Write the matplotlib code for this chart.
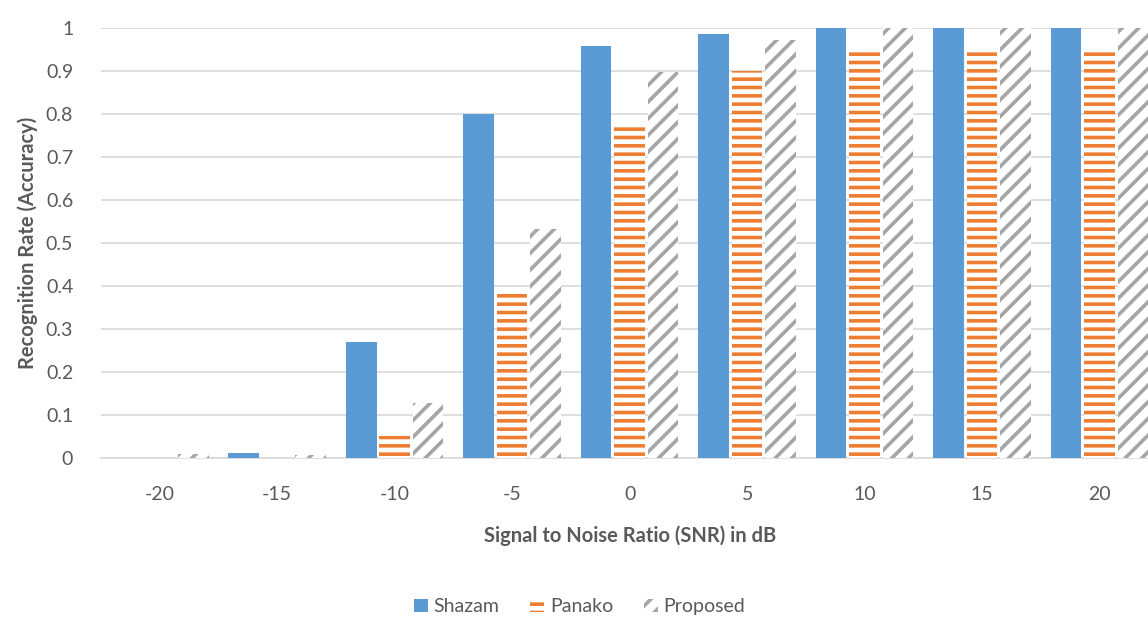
import numpy as np
import matplotlib.pyplot as plt

plt.rcParams['font.family'] = ['Lato', 'DejaVu Sans']
plt.rcParams['hatch.linewidth'] = 2.6

snr = ["-20", "-15", "-10", "-5", "0", "5", "10", "15", "20"]
shazam = [0.0, 0.012, 0.27, 0.80, 0.958, 0.986, 1.0, 1.0, 1.0]
panako = [0.0, 0.0, 0.051, 0.386, 0.774, 0.90, 0.943, 0.953, 0.953]
proposed = [0.01, 0.007, 0.128, 0.533, 0.898, 0.972, 1.0, 1.0, 1.0]

blue = "#5B9BD5"
orange = "#ED7D31"
gray = "#A5A5A5"
txt = "#595959"

fig = plt.figure(figsize=(11.48, 6.19), dpi=100)
ax = fig.add_axes([0.088, 0.26, 0.921, 0.695])

x = np.arange(len(snr))
w = 0.26
step = 0.285

ax.bar(x - step, shazam, w, color=blue, label="Shazam", zorder=3)
ax.bar(x, panako, w, color="white", edgecolor=orange, hatch="--",
       linewidth=0, label="Panako", zorder=3)
ax.bar(x + step, proposed, w, color="white", edgecolor=gray, hatch="//",
       linewidth=0, label="Proposed", zorder=3)

ax.set_xlim(-0.5, 8.5)
ax.set_ylim(0, 1)
ax.set_yticks(np.arange(0, 1.01, 0.1))
ax.set_yticklabels(["0", "0.1", "0.2", "0.3", "0.4", "0.5", "0.6", "0.7", "0.8", "0.9", "1"])
ax.set_xticks(x)
ax.set_xticklabels(snr)
ax.tick_params(length=0, labelsize=14, labelcolor=txt)
ax.tick_params(axis="x", pad=20)
ax.tick_params(axis="y", pad=20)
ax.grid(axis="y", color="#D9D9D9", linewidth=1.2, zorder=0)
for s in ["top", "right", "left"]:
    ax.spines[s].set_visible(False)
ax.spines["bottom"].set_color("#D9D9D9")
ax.spines["bottom"].set_linewidth(1.2)

ax.set_ylabel("Recognition Rate (Accuracy)", fontsize=14.5, fontweight="bold", color=txt, labelpad=6)
ax.set_xlabel("Signal to Noise Ratio (SNR) in dB", fontsize=14.5, fontweight="bold", color=txt, labelpad=16)

fig.legend(loc="center", bbox_to_anchor=(0.505, 0.02), ncol=3, frameon=False,
           fontsize=14, labelcolor=txt, handlelength=0.7, handleheight=0.7,
           handletextpad=0.3, columnspacing=1.6)

fig.savefig("out.png", dpi=100)
